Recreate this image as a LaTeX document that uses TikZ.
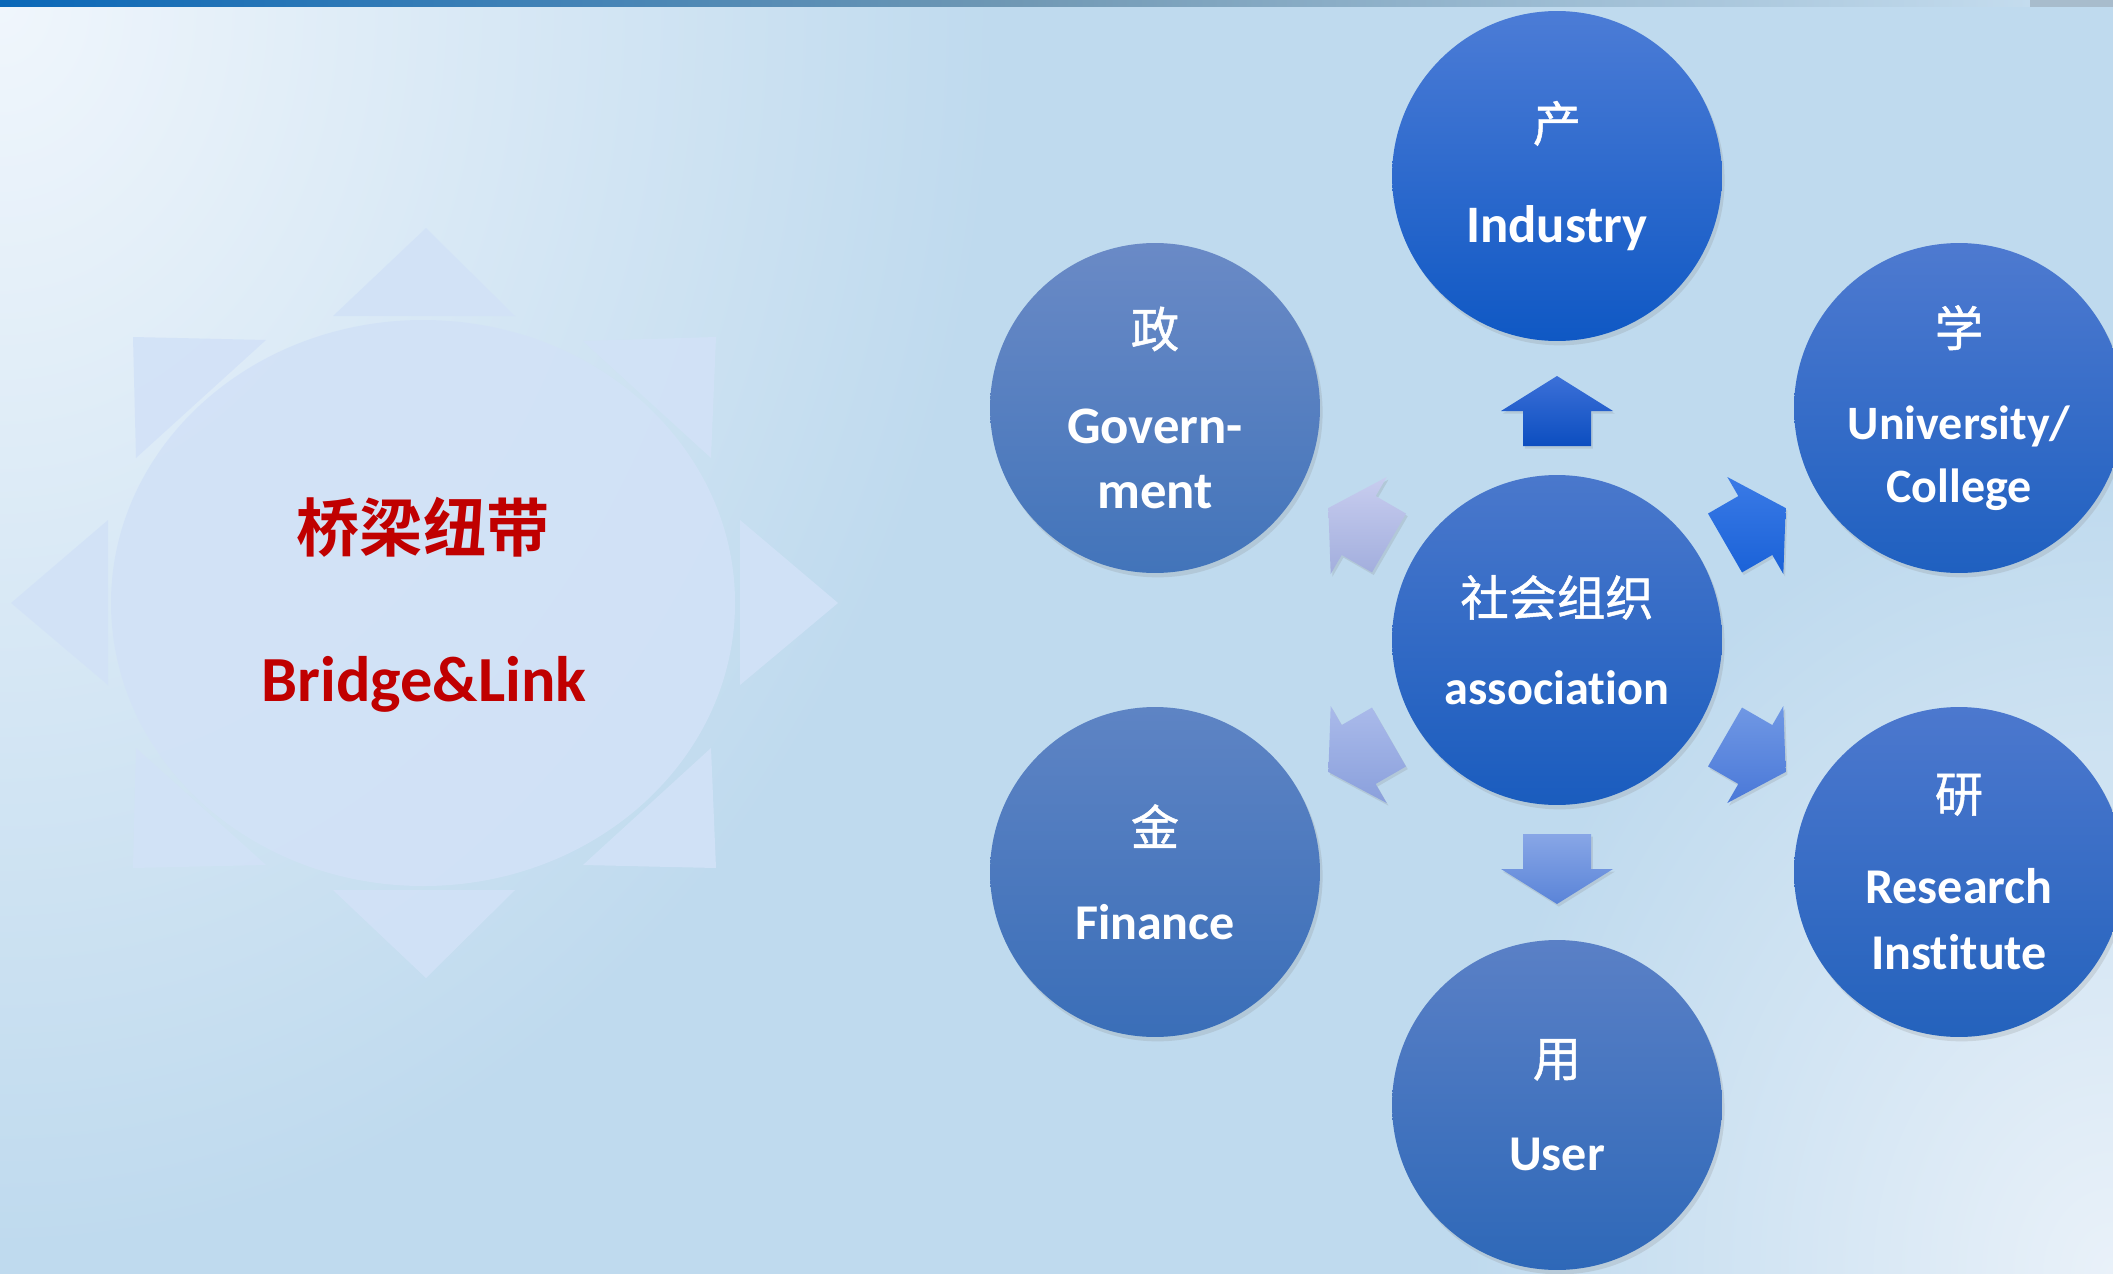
\documentclass[tikz,border=0pt]{standalone}
\usepackage{fontspec}
\setmainfont{Carlito}[Ligatures=NoCommon]
\newfontfamily\cjk{Noto Sans CJK SC}[BoldFont={Noto Sans CJK SC Bold}]
\newfontfamily\cjkm{Noto Sans CJK SC}[FakeBold=1]
\usetikzlibrary{shadows}

\definecolor{bgA}{HTML}{F0F6FC}
\definecolor{bgB}{HTML}{BFDAEE}
\definecolor{bgC}{HTML}{E9F1F9}
\definecolor{barA}{HTML}{0A68B8}
\definecolor{barB}{HTML}{7098B4}
\definecolor{barC}{HTML}{C4DCEE}
\definecolor{barD}{HTML}{A8BCCC}
\definecolor{sun}{HTML}{D2E2F7}
\definecolor{title}{HTML}{C00000}
% circle colours (top / bottom)
\definecolor{socT}{HTML}{4A78CC}\definecolor{socB}{HTML}{1A5CBE}
\definecolor{indT}{HTML}{4C7CD6}\definecolor{indB}{HTML}{0F58C4}
\definecolor{govT}{HTML}{6A8AC6}\definecolor{govB}{HTML}{4274BA}
\definecolor{finT}{HTML}{5E84C4}\definecolor{finB}{HTML}{3A6EB8}
\definecolor{usrT}{HTML}{5A80C6}\definecolor{usrB}{HTML}{2E68B8}
\definecolor{uniT}{HTML}{4E7AD0}\definecolor{uniB}{HTML}{1F60C0}
\definecolor{resT}{HTML}{4C78CE}\definecolor{resB}{HTML}{2462BC}
% arrow colours (top / bottom)
\definecolor{upT}{HTML}{3C70D8}\definecolor{upB}{HTML}{0C4EC0}
\definecolor{dnT}{HTML}{88A6E6}\definecolor{dnB}{HTML}{5A84D8}
\definecolor{glT}{HTML}{C8CDEF}\definecolor{glB}{HTML}{A2AEDD}
\definecolor{flT}{HTML}{AABAEA}\definecolor{flB}{HTML}{8AA0DC}
\definecolor{urT}{HTML}{3A7AE6}\definecolor{urB}{HTML}{1A62D8}
\definecolor{rsT}{HTML}{7098E4}\definecolor{rsB}{HTML}{4A78D8}

\newcommand\hanzi[1]{{\cjkm\mdseries\fontsize{27.5}{37.5}\selectfont #1}}

\begin{document}
\begin{tikzpicture}[x=0.02cm,y=-0.02cm,
  ball/.style={circle,minimum size=6.6cm,inner sep=0pt,align=center,
    text=white,font=\bfseries\fontsize{28.5}{37.5}\selectfont,
    drop shadow={opacity=0.2,shadow xshift=1.5pt,shadow yshift=-2.5pt}},
  ray/.style={fill=sun,opacity=0.9}]
\useasboundingbox (0,0) rectangle (2113,1274);
% background and top bar
\begin{scope}
\clip (0,0) rectangle (2113,1274);
\fill[bgB] (0,0) rectangle (2113,1274);
\shade[inner color=bgA,outer color=bgB] (0,0) ellipse [x radius=1000,y radius=1250];
\shade[inner color=bgC,outer color=bgB] (2113,1274) ellipse [x radius=650,y radius=800];
\end{scope}
\shade[left color=barA,right color=barC,middle color=barB] (0,0) rectangle (2030,7);
\fill[barD] (2030,0) rectangle (2113,7);

% sun
\fill[ray] (333,316) -- (426,228) -- (515,316) -- cycle;
\fill[ray] (333,890) -- (426,978) -- (515,890) -- cycle;
\fill[ray] (108,520) -- (11,603) -- (108,685) -- cycle;
\fill[ray] (740,520) -- (838,603) -- (740,685) -- cycle;
\fill[ray] (133,337) -- (266,340) -- (136,458) -- cycle;
\fill[ray] (716,337) -- (583,341) -- (711,458) -- cycle;
\fill[ray] (133,868) -- (266,865) -- (136,748) -- cycle;
\fill[ray] (716,868) -- (583,865) -- (711,748) -- cycle;
\fill[ray] (423,603) ellipse [x radius=312,y radius=283];
\node[text=title,inner sep=0pt] (zh) at (423,527) {\cjk\bfseries\fontsize{36}{40}\selectfont 桥梁纽带};
\node[text=title,anchor=base,inner sep=0pt,font=\bfseries\fontsize{36.6}{40}\selectfont] (en) at (424,701) {Bridge\&Link};

% circles
\node[ball,top color=socT,bottom color=socB,font=\bfseries\fontsize{27.5}{37.5}\selectfont] (soc) at (1557,640) {\hanzi{社会组织}\\[13pt]association};
\node[ball,top color=indT,bottom color=indB,font=\bfseries\fontsize{30}{37.5}\selectfont] (ind) at (1557,176) {\hanzi{产}\\[20pt]Industry};
\node[ball,top color=govT,bottom color=govB,font=\bfseries\fontsize{30}{37.5}\selectfont] (gov) at (1155,408) {\hanzi{政}\\[17pt]Govern-\\ment};
\node[ball,top color=finT,bottom color=finB] (fin) at (1155,872) {\hanzi{金}\\[16pt]Finance};
\node[ball,top color=usrT,bottom color=usrB] (usr) at (1557,1105) {\hanzi{用}\\[16pt]User};
\node[ball,top color=uniT,bottom color=uniB,font=\bfseries\fontsize{27.3}{36}\selectfont] (uni) at (1959,408) {\hanzi{学}\\[17pt]University/\\College};
\node[ball,top color=resT,bottom color=resB] (res) at (1959,872) {\hanzi{研}\\[15pt]Research\\Institute};

% arrows out of the centre
\foreach \ang/\ca/\cb in {90/upT/upB,270/dnT/dnB,150/glT/glB,210/flT/flB,30/urT/urB,330/rsT/rsB}
  \shade[top color=\ca,bottom color=\cb,shift={(soc.center)},rotate=\ang,
    drop shadow={opacity=0.2,shadow xshift=1pt,shadow yshift=-1.5pt}]
    (194,-34) -- (229,-34) -- (229,-56) -- (264,0) -- (229,56) -- (229,34) -- (194,34) -- cycle;
\end{tikzpicture}
\end{document}
